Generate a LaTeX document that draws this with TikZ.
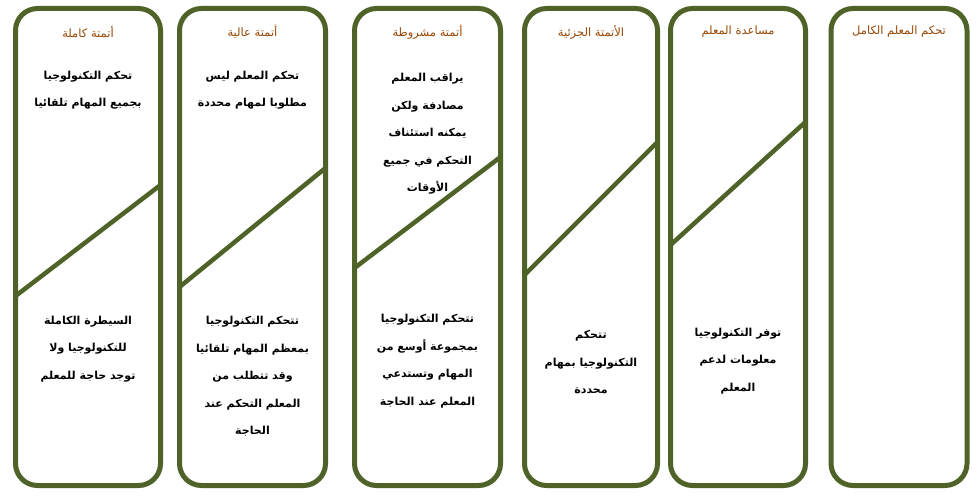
\documentclass[tikz,border=0pt]{standalone}
\usepackage{fontspec}
\newfontfamily\arabicfont[Script=Arabic]{DejaVu Sans}
\TeXXeTstate=1
\definecolor{olive}{HTML}{4F6228}
\definecolor{titlebrown}{HTML}{984806}
\tikzset{
  colbox/.style={draw=olive, line width=5pt, rounded corners=22pt, fill=white,
    minimum width=#1, minimum height=477pt, inner sep=0pt},
  split/.style={draw=olive, line width=4.5pt},
  ttl/.style={text=titlebrown, font=\arabicfont\fontsize{11.5}{13}\selectfont, inner sep=0pt},
  body/.style={text=black, align=center, font=\arabicfont\bfseries\fontsize{11}{27.5}\selectfont, inner sep=0pt}
}
\newcommand{\rl}[1]{\beginR #1\endR}
\begin{document}
\begin{tikzpicture}[x=1pt,y=-1pt]
\useasboundingbox[fill=white] (0,0) rectangle (979,497);
% columns
\node[colbox=145pt] (c1) at (88,247) {};
\node[colbox=146pt] (c2) at (252.5,247) {};
\node[colbox=146pt] (c3) at (427.5,247) {};
\node[colbox=133pt] (c4) at (591,247) {};
\node[colbox=135pt] (c5) at (738,247) {};
\node[colbox=136pt] (c6) at (899,247) {};
% diagonal splits
\coordinate (d1a) at (15.5,296); \coordinate (d1b) at (160.5,185);
\coordinate (d2a) at (179.5,287); \coordinate (d2b) at (325.5,168);
\coordinate (d3a) at (354.5,268); \coordinate (d3b) at (500.5,157);
\coordinate (d4a) at (524.5,275); \coordinate (d4b) at (657.5,142);
\coordinate (d5a) at (670.5,245); \coordinate (d5b) at (805.5,122);
\draw[split] (d1a) -- (d1b);
\draw[split] (d2a) -- (d2b);
\draw[split] (d3a) -- (d3b);
\draw[split] (d4a) -- (d4b);
\draw[split] (d5a) -- (d5b);
% titles
\node[ttl] (t1) at (88,32) {\rl{أتمتة كاملة}};
\node[ttl] (t2) at (252.5,32) {\rl{أتمتة عالية}};
\node[ttl] (t3) at (427.5,32) {\rl{أتمتة مشروطة}};
\node[ttl] (t4) at (591,32) {\rl{الأتمتة الجزئية}};
\node[ttl] (t5) at (738,32) {\rl{مساعدة المعلم}};
\node[ttl] (t6) at (899,32) {\rl{تحكم المعلم الكامل}};
% upper texts
\node[body] (u1) at (88,90) {\rl{تحكم التكنولوجيا}\\\rl{بجميع المهام تلقائيا}};
\node[body] (u2) at (252.5,90) {\rl{تحكم المعلم ليس}\\\rl{مطلوبا لمهام محددة}};
\node[body] (u3) at (427.5,134) {\rl{يراقب المعلم}\\\rl{مصادفة  ولكن}\\\rl{يمكنه استئناف}\\\rl{التحكم  في جميع}\\\rl{الأوقات}};
% lower texts
\node[body] (l1) at (88,349) {\rl{السيطرة الكاملة}\\\rl{للتكنولوجيا ولا}\\\rl{توجد حاجة للمعلم}};
\node[body] (l2) at (252.5,376.5) {\rl{تتحكم التكنولوجيا}\\\rl{بمعظم المهام تلقائيا}\\\rl{وقد تتطلب من}\\\rl{المعلم التحكم عند}\\\rl{الحاجة}};
\node[body] (l3) at (427.5,361) {\rl{تتحكم التكنولوجيا}\\\rl{بمجموعة أوسع من}\\\rl{المهام وتستدعي}\\\rl{المعلم عند الحاجة}};
\node[body] (l4) at (591,362) {\rl{تتحكم}\\\rl{التكنولوجيا بمهام}\\\rl{محددة}};
\node[body] (l5) at (738,361) {\rl{توفر التكنولوجيا}\\\rl{معلومات لدعم}\\\rl{المعلم}};
\end{tikzpicture}
\end{document}
